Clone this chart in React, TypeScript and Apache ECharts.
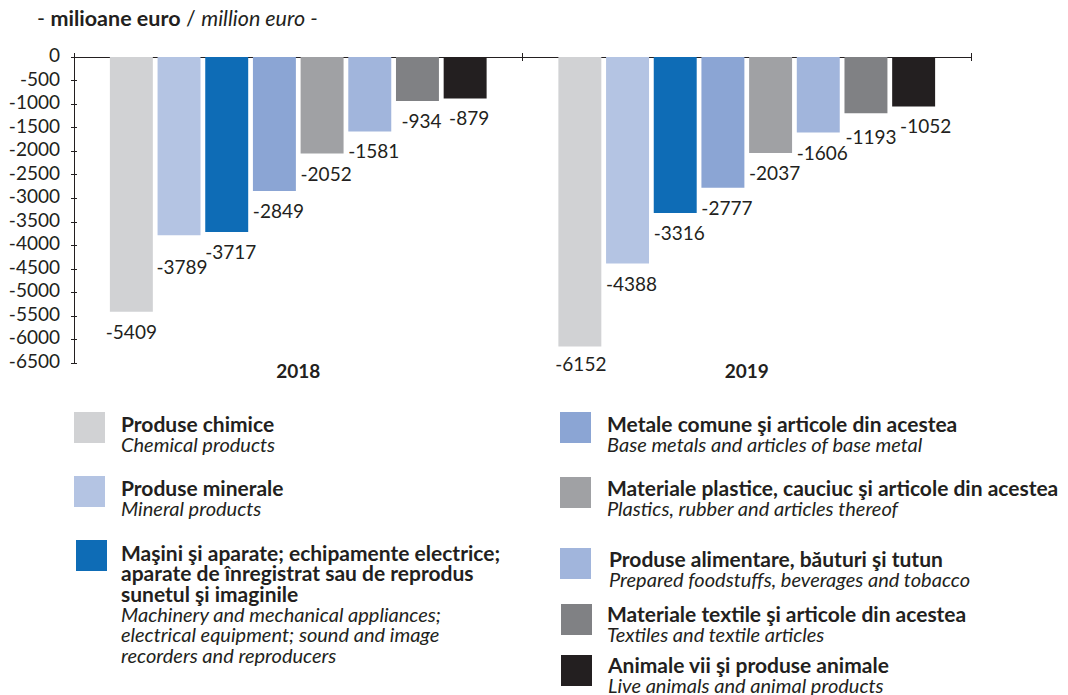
import React, { useEffect, useRef } from "react";
import * as echarts from "echarts";

const categories = ["2018", "2019"];
const values2018 = [-5409, -3789, -3717, -2849, -2052, -1581, -934, -879];
const values2019 = [-6152, -4388, -3316, -2777, -2037, -1606, -1193, -1052];
const namesRo = [
  "Produse chimice",
  "Produse minerale",
  "Maşini şi aparate; echipamente electrice;\naparate de înregistrat sau de reprodus\nsunetul şi imaginile",
  "Metale comune şi articole din acestea",
  "Materiale plastice, cauciuc şi articole din acestea",
  "Produse alimentare, băuturi şi tutun",
  "Materiale textile şi articole din acestea",
  "Animale vii şi produse animale",
];
const namesEn = [
  "Chemical products",
  "Mineral products",
  "Machinery and mechanical appliances;\nelectrical equipment; sound and image\nrecorders and reproducers",
  "Base metals and articles of base metal",
  "Plastics, rubber and articles thereof",
  "Prepared foodstuffs, beverages and tobacco",
  "Textiles and textile articles",
  "Live animals and animal products",
];
const colors = ["#d1d2d4", "#b4c4e3", "#0e6cb6", "#8ba5d4", "#a0a1a4", "#a1b5dc", "#808184", "#231f20"];
const yMin = -6500;
const yMax = 0;
const yStep = 500;

// legend layout (positions only)
const legendPos = [
  { sx: 74, sy: 412, tx: 121, ty: 413 },
  { sx: 74, sy: 476, tx: 121, ty: 477 },
  { sx: 76, sy: 540, tx: 121, ty: 542 },
  { sx: 560, sy: 412, tx: 607, ty: 413 },
  { sx: 560, sy: 477, tx: 607, ty: 477 },
  { sx: 560, sy: 548, tx: 609, ty: 548 },
  { sx: 561, sy: 604, tx: 607, ty: 603 },
  { sx: 561, sy: 655, tx: 608, ty: 654 },
];

// label nudges (series index, category index) -> offset
const labelNudges: Record<string, number[]> = {
  "0,0": [0, 0],
  "0,1": [1, -3],
  "1,0": [3, 12],
  "6,1": [5, 4],
  "7,1": [12, -1],
};

const FONT = "Lato";
const INK = "#231f20";

export default function App() {
  const ref = useRef<HTMLDivElement>(null);
  useEffect(() => {
    if (!ref.current) return;
    const chart = echarts.init(ref.current, null, { renderer: "svg" });

    const series = namesRo.map((name, i) => ({
      name,
      type: "bar",
      xAxisIndex: 0,
      yAxisIndex: 0,
      barGap: "11%",
      barCategoryGap: "16%",
      itemStyle: { color: colors[i] },
      label: {
        show: true,
        position: "bottom",
        distance: 10,
        offset: [4, 0],
        color: INK,
        fontFamily: FONT,
        fontSize: 19,
      },
      data: [values2018[i], values2019[i]].map((v, j) => {
        const nudge = labelNudges[`${i},${j}`];
        return nudge ? { value: v, label: { offset: nudge } } : v;
      }),
    }));

    const legendGraphics: any[] = [];
    namesRo.forEach((n, i) => {
      const p = legendPos[i];
      legendGraphics.push({
        type: "rect",
        shape: { x: p.sx, y: p.sy, width: 31, height: 31 },
        style: { fill: colors[i] },
      });
      const lines = [
        ...n.split("\n").map((l) => `{b|${l}}`),
        ...namesEn[i].split("\n").map((l) => `{i|${l}}`),
      ];
      legendGraphics.push({
        type: "text",
        x: p.tx,
        y: p.ty,
        style: {
          text: lines.join("\n"),
          fill: INK,
          rich: {
            b: { fontFamily: FONT, fontWeight: "bold", fontSize: 21, lineHeight: 20.5, fill: INK },
            i: { fontFamily: FONT, fontStyle: "italic", fontSize: 20, lineHeight: 20.5, fill: INK },
          },
        },
      });
    });

    const option: any = {
      animation: false,
      grid: { left: 74, right: 97, top: 57, height: 306 },
      xAxis: [
        {
          type: "category",
          data: categories,
          position: "top",
          axisLine: { show: true, lineStyle: { color: INK, width: 1 } },
          axisTick: { show: true, inside: false, length: 4, lineStyle: { color: INK } },
          axisLabel: { show: false },
        },
        {
          type: "category",
          data: categories,
          position: "top",
          axisLine: { show: false },
          axisTick: { show: true, inside: true, length: 4, lineStyle: { color: INK } },
          axisLabel: { show: false },
        },
        {
          type: "category",
          data: categories,
          position: "bottom",
          axisLine: { show: false },
          axisTick: { show: false },
          axisLabel: {
            show: true,
            margin: -2,
            color: INK,
            fontFamily: FONT,
            fontWeight: "bold",
            fontSize: 19,
          },
        },
      ],
      yAxis: [
        {
          type: "value",
          min: yMin,
          max: yMax,
          interval: yStep,
          axisLine: { show: true, lineStyle: { color: INK, width: 1 } },
          axisTick: { show: true, inside: false, length: 3, lineStyle: { color: INK } },
          splitLine: { show: false },
          axisLabel: {
            color: INK,
            fontFamily: FONT,
            fontSize: 19,
            margin: 14,
            verticalAlign: "bottom",
            lineHeight: 19,
            padding: [0, 0, -7, 0],
            formatter: (v: number) => String(v),
          },
        },
        {
          type: "value",
          min: yMin,
          max: yMax,
          interval: yStep,
          position: "left",
          axisLine: { show: false },
          axisTick: { show: true, inside: true, length: 3, lineStyle: { color: INK } },
          splitLine: { show: false },
          axisLabel: { show: false },
        },
      ],
      series,
      graphic: [
        {
          type: "text",
          x: 37,
          y: 7,
          style: {
            text: "{r|- }{b|milioane euro}{r| / }{i|million euro -}",
            rich: {
              r: { fontFamily: FONT, fontSize: 21.5, fill: INK },
              b: { fontFamily: FONT, fontSize: 21.5, fontWeight: "bold", fill: INK },
              i: { fontFamily: FONT, fontSize: 21.5, fontStyle: "italic", fill: INK },
            },
          },
        },
        ...legendGraphics,
      ],
    };
    chart.setOption(option);
    return () => chart.dispose();
  }, []);
  return (
    <div
      ref={ref}
      style={{ position: "fixed", left: 0, top: 0, width: 1068, height: 695, background: "#fff" }}
    />
  );
}
